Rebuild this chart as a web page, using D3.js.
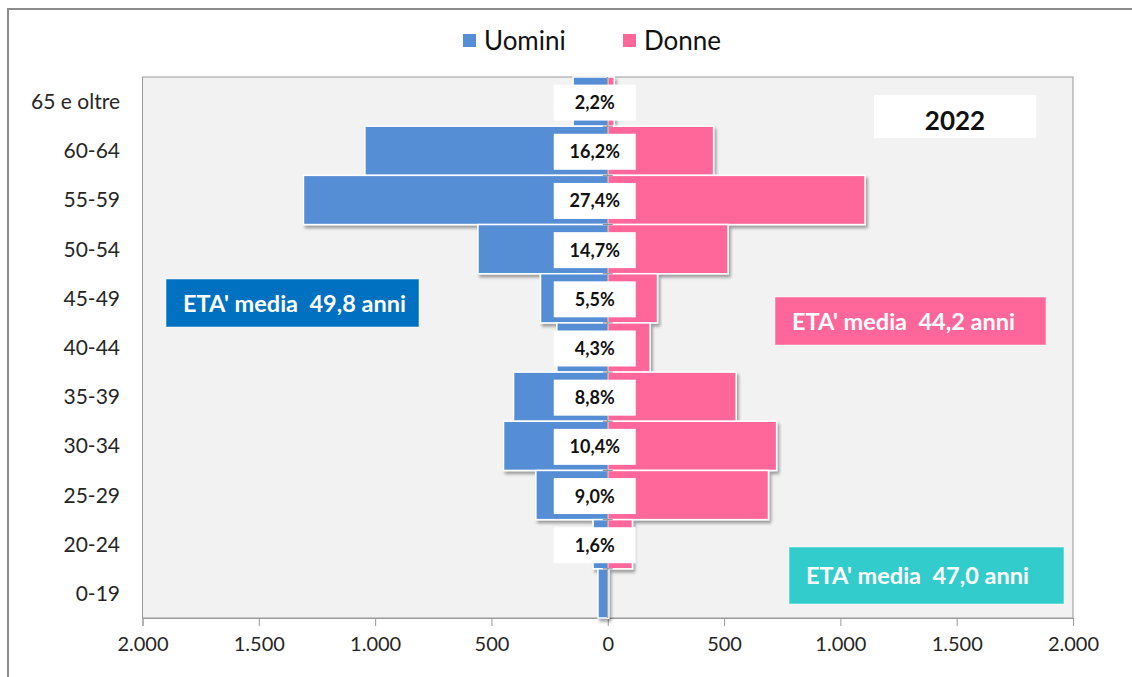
<!DOCTYPE html>
<html>
<head>
<meta charset="utf-8">
<script src="https://cdn.jsdelivr.net/npm/d3@7"></script>
<style>
  html, body { margin: 0; padding: 0; background: #ffffff; }
  svg { display: block; font-family: Lato, "Open Sans", sans-serif; }
</style>
</head>
<body>
<svg id="chart" width="1132" height="677"></svg>
<script>
// ---- data (top to bottom) ----
const categories = ["65 e oltre", "60-64", "55-59", "50-54", "45-49", "40-44", "35-39", "30-34", "25-29", "20-24", "0-19"];
const uomini = [149, 1044, 1308, 558, 289, 219, 405, 448, 309, 63, 42];
const donne  = [28, 455, 1106, 517, 214, 182, 552, 726, 691, 106, 4];
const pctLabels = ["2,2%", "16,2%", "27,4%", "14,7%", "5,5%", "4,3%", "8,8%", "10,4%", "9,0%", "1,6%", ""];
const xTicks = [-2000, -1500, -1000, -500, 0, 500, 1000, 1500, 2000];
const seriesNames = ["Uomini", "Donne"];
const yearLabel = "2022";
const mediaLabels = ["ETA' media  49,8 anni", "ETA' media  44,2 anni", "ETA' media  47,0 anni"];

const colors = { Uomini: "#558ED5", Donne: "#FF6699" };

const svg = d3.select("#chart");

// outer frame
svg.append("rect").attr("x", 8).attr("y", 9).attr("width", 1140).attr("height", 690)
  .attr("fill", "#fff").attr("stroke", "#8c8c8c").attr("stroke-width", 2);

const plot = { left: 142.5, right: 1073, top: 77, bottom: 618 };

const x = d3.scaleLinear().domain([-2000, 2000]).range([plot.left, plot.right]);
const y = d3.scaleBand().domain(categories).range([plot.top, plot.bottom]).padding(0);

// shadow filter
const defs = svg.append("defs");
const f = defs.append("filter").attr("id", "shadow").attr("x", "-10%").attr("y", "-10%").attr("width", "130%").attr("height", "140%");
f.append("feDropShadow").attr("dx", 2).attr("dy", 3).attr("stdDeviation", 1.5)
  .attr("flood-color", "#000").attr("flood-opacity", 0.35);

// plot area
svg.append("rect").attr("x", plot.left).attr("y", plot.top)
  .attr("width", plot.right - plot.left).attr("height", plot.bottom - plot.top)
  .attr("fill", "#F2F2F2").attr("stroke", "#9a9a9a").attr("stroke-width", 1);

// bottom axis
const loc = d3.formatLocale({ decimal: ",", thousands: ".", grouping: [3], currency: ["", ""] });
const fmt = loc.format(",");
const xAxis = d3.axisBottom(x).tickValues(xTicks).tickFormat(d => fmt(Math.abs(d)))
  .tickSize(8).tickPadding(11);
const gx = svg.append("g").attr("transform", `translate(0,${plot.bottom})`).call(xAxis);
gx.select(".domain").attr("stroke", "#9a9a9a");
gx.selectAll(".tick line").attr("stroke", "#9a9a9a");
gx.selectAll(".tick text").attr("fill", "#262626").style("font-size", "20px")
  .style("font-family", "Lato, sans-serif");

// category labels
svg.append("g").selectAll("text").data(categories).join("text")
  .attr("x", 120).attr("y", d => y(d) + y.bandwidth() / 2 + 7.5)
  .attr("text-anchor", "end").attr("fill", "#262626").style("font-size", "21px")
  .text(d => d);

// bars
const rows = categories.map((c, i) => ({ cat: c, u: uomini[i], d: donne[i], pct: pctLabels[i] }));
const bars = svg.append("g").attr("filter", "url(#shadow)");
rows.forEach(r => {
  bars.append("rect")
    .attr("x", x(-r.u)).attr("y", y(r.cat))
    .attr("width", x(0) - x(-r.u)).attr("height", y.bandwidth())
    .attr("fill", colors.Uomini).attr("stroke", "#fff").attr("stroke-width", 1.5);
  bars.append("rect")
    .attr("x", x(0)).attr("y", y(r.cat))
    .attr("width", x(r.d) - x(0)).attr("height", y.bandwidth())
    .attr("fill", colors.Donne).attr("stroke", "#fff").attr("stroke-width", 1.5);
});

// zero axis with ticks
const zx = x(0);
svg.append("line").attr("x1", zx).attr("x2", zx).attr("y1", plot.top).attr("y2", plot.bottom)
  .attr("stroke", "#8c8c8c").attr("stroke-width", 1);
svg.append("g").selectAll("line").data(categories.slice(1)).join("line")
  .attr("x1", zx - 5).attr("x2", zx + 5)
  .attr("y1", d => y(d)).attr("y2", d => y(d))
  .attr("stroke", "#8c8c8c").attr("stroke-width", 1);

// percentage labels
const lg = svg.append("g");
const boxW = 82, boxH = 36, boxC = zx - 13;
rows.filter(r => r.pct).forEach(r => {
  const g = lg.append("g");
  const cy = y(r.cat) + y.bandwidth() / 2 + 1;
  g.append("rect").attr("x", boxC - boxW / 2).attr("y", cy - boxH / 2)
    .attr("width", boxW).attr("height", boxH).attr("fill", "#fff");
  g.append("text").attr("x", boxC).attr("y", cy + 6.5)
    .attr("text-anchor", "middle").attr("fill", "#111").style("font-size", "18px").style("font-weight", "bold")
    .text(r.pct);
});

// year box
svg.append("rect").attr("x", 874).attr("y", 95).attr("width", 162).attr("height", 43).attr("fill", "#fff");
svg.append("text").attr("x", 955).attr("y", 130).attr("text-anchor", "middle")
  .style("font-size", "26px").style("font-weight", "bold").attr("fill", "#111").text(yearLabel);

// media boxes
const boxes = [
  { x: 166, y: 279, w: 253, h: 48, fill: "#0070C0" },
  { x: 775, y: 297, w: 271, h: 48, fill: "#FF6699" },
  { x: 789, y: 547, w: 275, h: 57, fill: "#33CCCC" }
];
boxes.forEach((b, i) => {
  svg.append("rect").attr("x", b.x).attr("y", b.y).attr("width", b.w).attr("height", b.h)
    .attr("fill", b.fill).attr("stroke", "#ffffff").attr("stroke-opacity", 0.5);
  svg.append("text").attr("x", b.x + 17).attr("y", b.y + b.h / 2 + 8.5)
    .attr("fill", "#fff").style("font-size", "23.5px").style("font-weight", "bold")
    .style("white-space", "pre").attr("xml:space", "preserve")
    .text(mediaLabels[i]);
});

// legend
const leg = svg.append("g");
const legItems = [{ name: seriesNames[0], x: 463 }, { name: seriesNames[1], x: 623 }];
legItems.forEach(it => {
  leg.append("rect").attr("x", it.x).attr("y", 34).attr("width", 13).attr("height", 13)
    .attr("fill", colors[it.name]);
  leg.append("text").attr("x", it.x + 21).attr("y", 50).attr("fill", "#111")
    .style("font-size", "26px").text(it.name);
});
</script>
</body>
</html>
